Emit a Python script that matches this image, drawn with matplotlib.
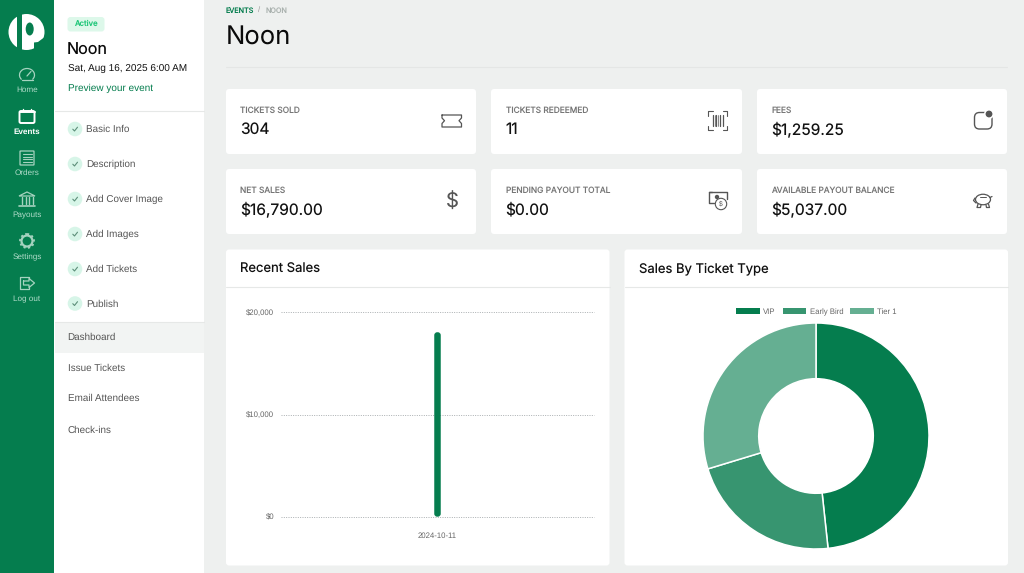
import matplotlib
matplotlib.use('Agg')
import matplotlib.pyplot as plt
import numpy as np
from matplotlib.patches import FancyBboxPatch, Rectangle, Circle, Ellipse, Arc, Polygon
from matplotlib.transforms import IdentityTransform

plt.rcParams['text.hinting'] = 'no_hinting'

# chart data
sales_dates = ['2024-10-11']
sales_values = [18050]
sales_ticks = [0, 10000, 20000]
sales_tick_labels = ['$0', '$10,000', '$20,000']
ticket_types = ['VIP', 'Early Bird', 'Tier 1']
ticket_shares = [48.3, 22.0, 29.7]

# page text
stat_labels = ['TICKETS SOLD', 'TICKETS REDEEMED', 'FEES',
               'NET SALES', 'PENDING PAYOUT TOTAL', 'AVAILABLE PAYOUT BALANCE']
stat_values = ['304', '11', '$1,259.25', '$16,790.00', '$0.00', '$5,037.00']
nav_labels = ['Home', 'Events', 'Orders', 'Payouts', 'Settings', 'Log out']
setup_steps = ['Basic Info', 'Description', 'Add Cover Image', 'Add Images', 'Add Tickets', 'Publish']
manage_links = ['Dashboard', 'Issue Tickets', 'Email Attendees', 'Check-ins']

GREEN = '#057d4e'
PIE_COLORS = ['#057d4e', '#379570', '#65af92']
BG = '#eef0ef'
ICON = '#555555'
NAV_ICON = '#a5d3bf'
HEAD = 'Inter'
BODY = 'Liberation Sans'

W, H = 1024, 573
fig = plt.figure(figsize=(W / 100, H / 100), dpi=100, facecolor=BG)

# whole page drawn in pixel coordinates
page = fig.add_axes([0, 0, 1, 1], zorder=0)
page.set_xlim(0, W)
page.set_ylim(H, 0)
page.axis('off')


def box(x0, y0, x1, y1, color='white', r=0.0, **kw):
    if r:
        p = FancyBboxPatch((x0, y0), x1 - x0, y1 - y0, boxstyle='round,pad=0,rounding_size=%g' % r,
                           facecolor=color, edgecolor='none', **kw)
    else:
        p = Rectangle((x0, y0), x1 - x0, y1 - y0, facecolor=color, edgecolor='none', **kw)
    page.add_patch(p)
    return p


def outline(x0, y0, x1, y1, color, r=2.0, lw=0.9):
    page.add_patch(FancyBboxPatch((x0, y0), x1 - x0, y1 - y0, boxstyle='round,pad=0,rounding_size=%g' % r,
                                  facecolor='none', edgecolor=color, linewidth=lw))


def line(xs, ys, color, lw=0.9):
    page.plot(xs, ys, color=color, linewidth=lw, solid_capstyle='round', solid_joinstyle='round')


def txt(x, y, s, size, color='#111111', family=BODY, ha='left', weight='normal', va='center', **kw):
    page.text(x, y, s, fontsize=size, color=color, family=family, ha=ha, va=va, weight=weight, **kw)


# sidebars
box(0, 0, 54, H, GREEN)
box(54, 0, 204, H, 'white')
box(55, 322, 204, 353, '#f2f4f3')
line([55, 204], [111, 111], '#e6e8e7', 0.8)
line([55, 204], [321.5, 321.5], '#e6e8e7', 0.8)

# logo
disc = Circle((26.5, 32), 18, facecolor='white', edgecolor='none')
page.add_patch(disc)
box(16.5, 12, 21.5, 52, GREEN)
notch = Polygon([(34, 52), (34, 42.5), (38, 42), (42, 39), (46, 36), (46, 52)], facecolor=GREEN, edgecolor='none')
page.add_patch(notch)
page.add_patch(Ellipse((29.7, 29), 8, 13, facecolor=GREEN, edgecolor='none'))

# main nav
nav_y = [90, 131.5, 173, 215.5, 257.5, 299]
for name, y in zip(nav_labels, nav_y):
    active = name == 'Events'
    txt(27, y, name, 5.9, 'white' if active else '#b0dbc9', ha='center', weight='bold' if active else 'normal')

# home gauge
page.add_patch(Arc((27, 75), 15, 13, theta1=140, theta2=400, edgecolor=NAV_ICON, linewidth=0.9))
line([21.5, 32.5], [79.8, 79.8], NAV_ICON)
line([27, 31], [76, 71.5], NAV_ICON)
# events calendar
outline(19.5, 111, 34.5, 123, 'white', r=1.5, lw=1.4)
line([19.5, 34.5], [112, 112], 'white', 1.4)
line([23, 23], [109, 111], 'white', 1.0)
line([31, 31], [109, 111], 'white', 1.0)
# orders
outline(20, 151, 34, 165, NAV_ICON, r=0.5)
for yy in [154, 156.5, 159, 161.5]:
    line([22.5, 31.5], [yy, yy], NAV_ICON, 0.8)
# payouts bank
page.add_patch(Polygon([(19, 196), (27, 192), (35, 196)], closed=True, facecolor='none', edgecolor=NAV_ICON, linewidth=0.9))
for xx in [21.5, 25.5, 28.5, 32.5]:
    line([xx, xx], [197, 204], NAV_ICON, 1.0)
line([19, 35], [206, 206], NAV_ICON, 1.2)
# settings gear
page.add_patch(Circle((27, 241), 5.5, facecolor='none', edgecolor=NAV_ICON, linewidth=1.6))
page.add_patch(Circle((27, 241), 7, facecolor='none', edgecolor=NAV_ICON, linewidth=1.3, linestyle=(0, (1.2, 1.4))))
# log out
line([29, 29, 19.5, 19.5, 29, 29], [279, 276.5, 276.5, 289, 289, 286.5], NAV_ICON)
line([23.5, 29, 29, 34.5, 29, 29, 23.5, 23.5], [281, 281, 278.5, 283, 287.5, 285, 285, 281], NAV_ICON)

# event header
box(67.5, 17, 104.5, 31.5, '#ddf8ea', r=3)
txt(86, 24, 'Active', 5.6, '#22c77a', family=HEAD, ha='center', weight='medium')
txt(67, 50.5, 'Noon', 11.6, '#0a0a0a', family=HEAD)
txt(67.5, 69.5, 'Sat, Aug 16, 2025 6:00 AM', 7.2, '#111111')
txt(67.5, 88, 'Preview your event', 7.2, GREEN)

# setup steps with check circles
step_y = [129, 164, 199, 234, 269, 303.5]
for name, y in zip(setup_steps, step_y):
    page.add_patch(Circle((75, y), 7.3, facecolor='#d7f5e8', edgecolor='none'))
    line([72.8, 74.5, 77.5], [y + 0.2, y + 2, y - 1.8], '#5d8f7a', 0.8)
    txt(86, y + 3, name, 7.1, '#555555', va='baseline')

link_y = [336.5, 367.5, 397.5, 429]
for name, y in zip(manage_links, link_y):
    txt(67.5, y + 3.5, name, 7.1, '#555555', va='baseline')

# breadcrumb and title
txt(226, 10.5, 'EVENTS', 5.2, GREEN, family=HEAD)
txt(257.5, 10, '/', 5.5, '#999999')
txt(266, 10.5, 'NOON', 5.2, '#aab2af', family=HEAD)
txt(226, 36.5, 'Noon', 18.5, '#0a0a0a', family=HEAD)
line([226, 1007], [66.5, 66.5], '#e4e6e5', 0.8)

# stat cards
card_x = [(226, 476), (491, 742), (757, 1007)]
card_y = [(89, 154), (169, 234)]
for i, (label, value) in enumerate(zip(stat_labels, stat_values)):
    x0, x1 = card_x[i % 3]
    y0, y1 = card_y[i // 3]
    box(x0, y0, x1, y1, 'white', r=3)
    txt(x0 + 14.5, y0 + 23.5, label, 6.0, '#777777', family=HEAD, va='baseline')
    txt(x0 + 14.5, y0 + 45, value, 11.2, '#111111', family=HEAD, va='baseline')

# ticket icon
tx = [442, 461.5, 461.5, 459, 461.5, 461.5, 442, 442, 444.5, 442, 442]
ty = [115, 115, 118, 120.7, 123.5, 127, 127, 123.5, 120.7, 118, 115]
line(tx, ty, ICON, 0.9)
# barcode icon
for sx, sy in [(708, 111), (727, 111), (708, 130), (727, 130)]:
    dx = 4.5 if sx == 708 else -4.5
    dy = 4.5 if sy == 111 else -4.5
    line([sx + dx, sx, sx], [sy, sy, sy + dy], ICON, 0.8)
for xx, lw in zip([712.5, 714.5, 716.2, 718, 720, 722.5], [0.9, 0.5, 0.9, 0.5, 0.9, 0.9]):
    line([xx, xx], [115, 126], ICON, lw)
# fees icon
outline(974.5, 112.5, 992, 129, ICON, r=5, lw=1.0)
page.add_patch(Circle((989, 114), 5, facecolor='white', edgecolor='none'))
page.add_patch(Circle((989, 114), 3.4, facecolor=ICON, edgecolor='none'))
# dollar icon
txt(452, 201, '$', 14.5, ICON, family=HEAD, ha='center')
# cash icon
line([712, 708.5, 708.5, 714], [191.5, 191.5, 203, 203], ICON, 1.0)
line([709, 727, 727], [191.5, 191.5, 199], ICON, 1.0)
page.add_patch(Circle((717, 197), 2.2, facecolor=ICON, edgecolor='none'))
page.add_patch(Circle((721, 204), 5.7, facecolor='white', edgecolor=ICON, linewidth=0.8))
txt(721, 204, '$', 4.8, ICON, ha='center')
# piggy icon
page.add_patch(Ellipse((983, 199.5), 15, 10.5, facecolor='none', edgecolor=ICON, linewidth=0.9))
line([975, 973.5, 976], [198, 200.5, 203], ICON, 0.9)
line([978, 977, 980.5, 981], [204, 207.5, 207.5, 205], ICON, 0.9)
line([986, 986.5, 989.5, 988.5], [205, 207.5, 207.5, 204], ICON, 0.9)
line([990, 992], [197.5, 196.5], ICON, 0.9)
line([980, 986], [196.5, 196.5], ICON, 0.7)

# chart panels
panel_x = [(226, 609.5), (624.5, 1008)]
panel_titles = ['Recent Sales', 'Sales By Ticket Type']
for (x0, x1), title in zip(panel_x, panel_titles):
    box(x0, 249.5, x1, 565.5, 'white', r=3)
    line([x0, x1], [286.5, 286.5], '#e6e8e7', 0.8)
    txt(x0 + 14.5, 272.5, title, 9.4, '#111111', family=HEAD, va='baseline')


def px_axes(x0, y0, x1, y1):
    return fig.add_axes([x0 / W, 1 - y1 / H, (x1 - x0) / W, (y1 - y0) / H], zorder=2)


# recent sales bars
ax = px_axes(281, 312.3, 594, 516.7)
ax.patch.set_alpha(0)
bars = ax.bar(sales_dates, sales_values, width=6.5 / 313, color=GREEN, zorder=3)
ax.set_xlim(-0.5, 0.5)
ax.set_ylim(0, 20000)
ax.set_yticks(sales_ticks)
ax.set_yticklabels(sales_tick_labels, fontsize=5.6, color='#666666', family=BODY)
ax.tick_params(axis='both', length=0, labelcolor='#666666')
ax.tick_params(axis='y', pad=4.8)
ax.tick_params(axis='x', pad=10.8, labelsize=5.6)
for lab in ax.get_xticklabels():
    lab.set_family(BODY)
ax.yaxis.grid(True, linestyle=(0, (1, 1.4)), color='#a9aeb0', linewidth=0.7, clip_on=False)
ax.set_axisbelow(True)
for s in ax.spines.values():
    s.set_visible(False)

# rounded bar ends
fig.canvas.draw()
for b in bars:
    bb = b.get_window_extent()
    rounded = FancyBboxPatch((bb.x0, bb.y0), bb.width, bb.height, boxstyle='round,pad=0,rounding_size=3',
                             transform=IdentityTransform())
    b.set_clip_path(rounded)

# ticket type donut
ax2 = px_axes(816 - 113, 436 - 113, 816 + 113, 436 + 113)
wedges, _ = ax2.pie(ticket_shares, colors=PIE_COLORS, startangle=90, counterclock=False, radius=1,
                    wedgeprops={'width': 0.493, 'edgecolor': 'white', 'linewidth': 1.1})
ax2.set_xlim(-1, 1)
ax2.set_ylim(-1, 1)
swatches = [Rectangle((0, 0), 1, 1, facecolor=c, edgecolor='none') for c in PIE_COLORS]
leg = fig.legend(swatches, ticket_types, loc='center', bbox_to_anchor=(816.5 / W, 1 - 311.7 / H), ncol=3, frameon=False,
                 prop={'family': BODY, 'size': 5.6}, labelcolor='#666666', handlelength=3.0, handleheight=0.8,
                 handletextpad=0.45, columnspacing=0.9, borderpad=0, borderaxespad=0)
# the descender in Early Bird lifts that column a little
leg.get_texts()[1].set_y(-0.8)

fig.savefig('out.png', dpi=100, facecolor=BG)
